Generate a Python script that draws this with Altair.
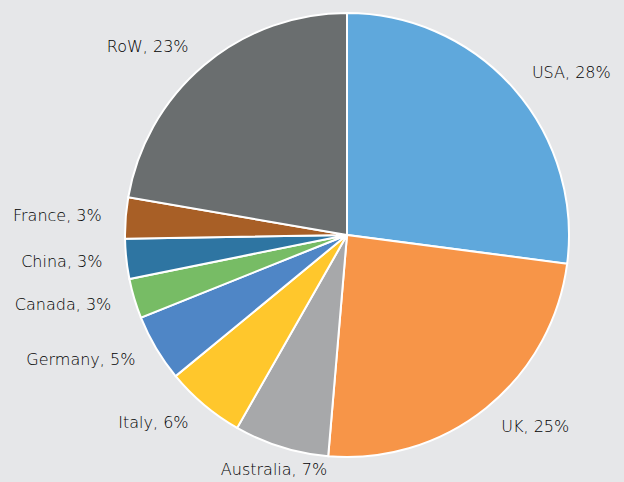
import altair as alt
import pandas as pd
import jinja2
from altair.utils.html import HTML_TEMPLATE

countries = ["USA", "UK", "Australia", "Italy", "Germany", "Canada", "China", "France", "RoW"]
shares = [27.1, 24.3, 6.9, 5.8, 4.9, 2.9, 2.9, 3.0, 22.3]
labels = ["USA, 28%", "UK, 25%", "Australia, 7%", "Italy, 6%", "Germany, 5%",
          "Canada, 3%", "China, 3%", "France, 3%", "RoW, 23%"]
colors = ["#5fa8dc", "#f79548", "#a7a8aa", "#ffc72c", "#4f86c6",
          "#77bc65", "#2e75a2", "#a85f26", "#6a6e6f"]
BG = "#e6e7e9"

df = pd.DataFrame({
    "idx": list(range(len(countries))),
    "country": countries,
    "share": shares,
    "label": labels,
})

base = alt.Chart(df).transform_joinaggregate(
    total="sum(share)"
).transform_window(
    cum="sum(share)", sort=[alt.SortField("idx")]
).transform_calculate(
    mid="(datum.cum - datum.share / 2) / datum.total"
).encode(
    theta=alt.Theta("share:Q", stack=True),
    order=alt.Order("idx:Q"),
)

pie = base.mark_arc(radius=222, stroke="white", strokeWidth=2).encode(
    color=alt.Color("country:N", sort=countries,
                    scale=alt.Scale(domain=countries, range=colors), legend=None)
)

def text_layer(test, align):
    return base.mark_text(radius=246, align=align, baseline="middle",
                          font="DejaVu Sans", fontWeight=200, fontSize=16,
                          color="#000000").encode(
        text=alt.condition(test, alt.Text("label:N"), alt.value(""))
    )

left = text_layer("datum.mid < 0.45", "left")
center = text_layer("datum.mid >= 0.45 && datum.mid < 0.58", "center")
right = text_layer("datum.mid >= 0.58", "right")

chart = alt.layer(pie, left, center, right).properties(
    width=444, height=444,
    padding={"left": 117, "top": 5, "right": 47, "bottom": 30},
    autosize=alt.AutoSizeParams(type="none"),
    background=BG,
).configure_view(stroke=None)


class PageTemplate(jinja2.Template):
    def render(self, *args, **kwargs):
        html = HTML_TEMPLATE.render(*args, **kwargs)
        style = "<style>html, body { background: %s; }</style>" % BG
        if "<head>" in html:
            return html.replace("<head>", "<head>" + style, 1)
        return style + html


chart.save("out.html", embed_options={"renderer": "svg", "actions": False},
           template=PageTemplate(""))
